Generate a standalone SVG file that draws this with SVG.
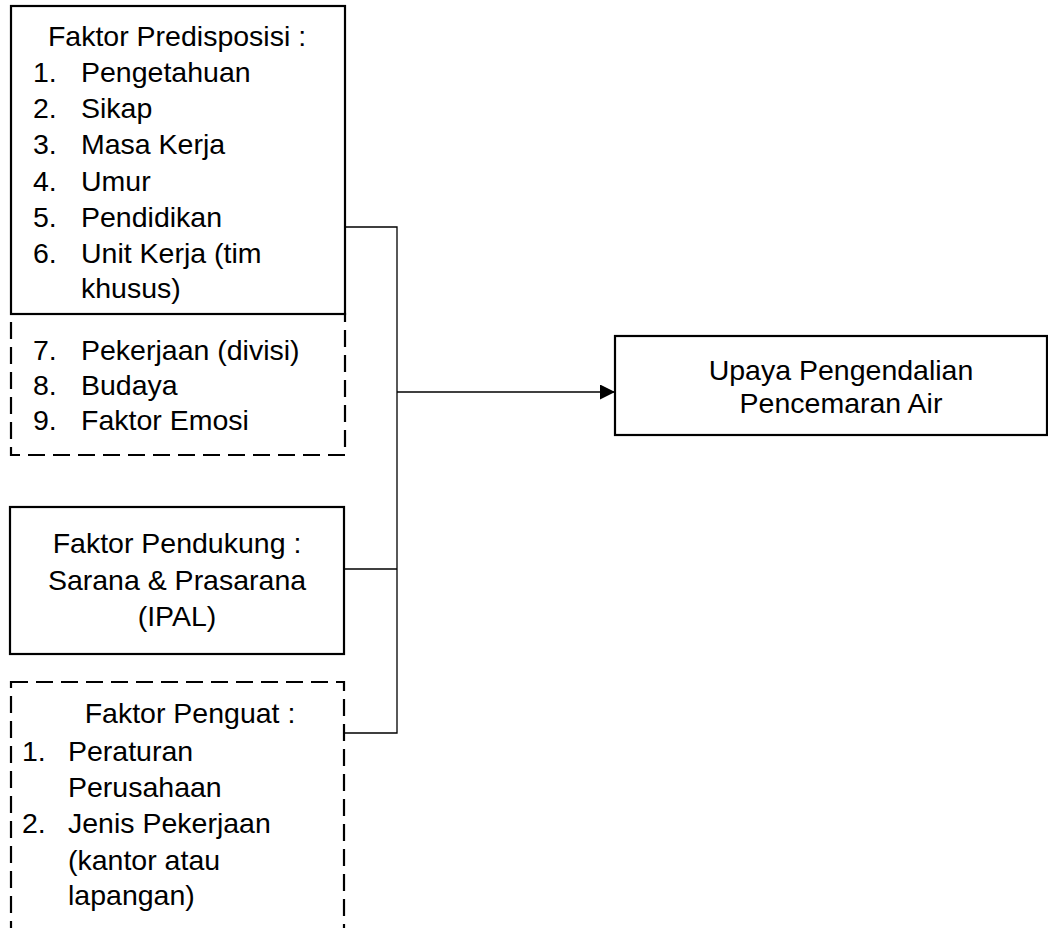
<svg xmlns="http://www.w3.org/2000/svg" width="1048" height="928" viewBox="0 0 1048 928">
<defs>
<style>
text{font-family:"Liberation Sans",Arial,sans-serif;font-size:28.5px;fill:#000}
.c{text-anchor:middle}
.box{fill:#fff;stroke:#000;stroke-width:2.2}
.dash{fill:none;stroke:#000;stroke-width:2.2;stroke-dasharray:17 8}
.conn{fill:none;stroke:#000;stroke-width:1.3}
</style>
<marker id="arr" markerWidth="16" markerHeight="16" refX="15" refY="7.5" orient="auto" markerUnits="userSpaceOnUse">
<path d="M0,0 L15,7.5 L0,15 Z" fill="#000"/>
</marker>
</defs>
<rect width="1048" height="928" fill="#fff"/>
<g id="connectors">
<polyline class="conn" points="345,227 397,227 397,733 344,733"/>
<line class="conn" x1="344" y1="569" x2="397" y2="569"/>
<line class="conn" x1="397" y1="392" x2="615" y2="392" marker-end="url(#arr)"/>
</g>
<g id="predisposisi">
<rect class="box" x="11" y="6" width="334" height="308"/>
<text class="c" x="177" y="46">Faktor Predisposisi :</text>
<text x="33" y="82">1.</text><text x="81" y="82">Pengetahuan</text>
<text x="33" y="118">2.</text><text x="81" y="118">Sikap</text>
<text x="33" y="154">3.</text><text x="81" y="154">Masa Kerja</text>
<text x="33" y="191">4.</text><text x="81" y="191">Umur</text>
<text x="33" y="227">5.</text><text x="81" y="227">Pendidikan</text>
<text x="33" y="263">6.</text><text x="81" y="263">Unit Kerja (tim</text>
<text x="81" y="298">khusus)</text>
</g>
<g id="predisposisi-extra">
<rect class="dash" x="11" y="314" width="334" height="141"/>
<text x="33" y="360">7.</text><text x="81" y="360">Pekerjaan (divisi)</text>
<text x="33" y="395">8.</text><text x="81" y="395">Budaya</text>
<text x="33" y="430">9.</text><text x="81" y="430">Faktor Emosi</text>
</g>
<g id="pendukung">
<rect class="box" x="10" y="507" width="334" height="147"/>
<text class="c" x="177" y="553">Faktor Pendukung :</text>
<text class="c" x="177" y="590">Sarana &amp; Prasarana</text>
<text class="c" x="177" y="626">(IPAL)</text>
</g>
<g id="penguat">
<rect class="dash" x="11" y="682" width="333" height="270"/>
<text class="c" x="190" y="723">Faktor Penguat :</text>
<text x="22" y="761">1.</text><text x="68" y="761">Peraturan</text>
<text x="68" y="797">Perusahaan</text>
<text x="22" y="833">2.</text><text x="68" y="833">Jenis Pekerjaan</text>
<text x="68" y="870">(kantor atau</text>
<text x="68" y="905">lapangan)</text>
</g>
<g id="upaya">
<rect class="box" x="615" y="336" width="432" height="99"/>
<text class="c" x="841" y="380">Upaya Pengendalian</text>
<text class="c" x="841" y="413">Pencemaran Air</text>
</g>
</svg>
